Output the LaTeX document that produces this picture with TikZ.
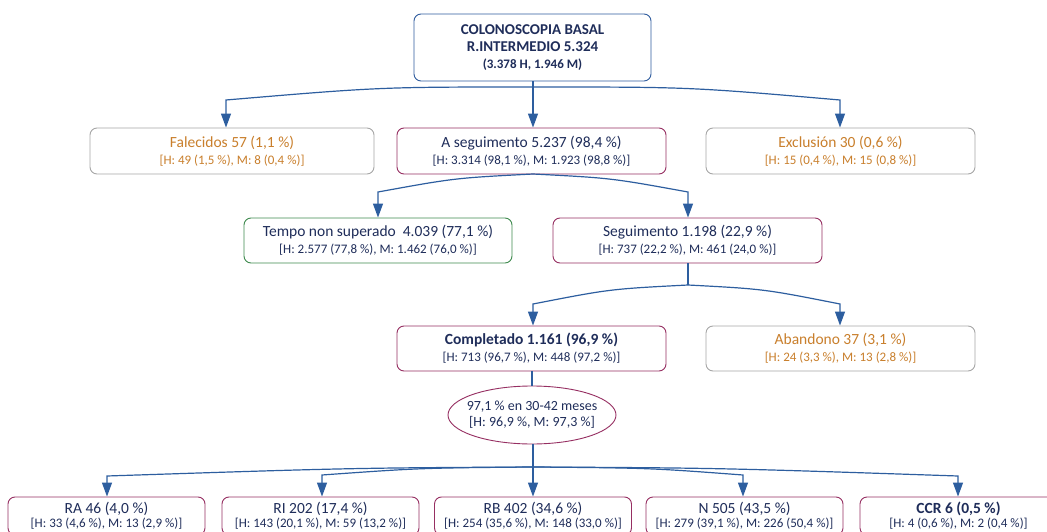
\documentclass[tikz,border=0pt]{standalone}
\usepackage{fontspec}
\setmainfont{Carlito}
\usetikzlibrary{arrows.meta,shapes.geometric}
\definecolor{navy}{HTML}{1F2D5A}
\definecolor{orangetxt}{HTML}{C97F2C}
\definecolor{maroonbd}{HTML}{962F62}
\definecolor{graybd}{HTML}{A6A6A6}
\definecolor{greenbd}{HTML}{3E8A4E}
\definecolor{topbd}{HTML}{2F5C9E}
\definecolor{lineblue}{HTML}{2D5E9F}
\newcommand\firstline[1]{{\fontsize{15.5}{17}\selectfont #1}}
\newcommand\secline[1]{{\fontsize{13}{17}\selectfont #1}}
\newcommand\bfirst[1]{{\fontsize{15.5}{14}\selectfont #1}}
\newcommand\bsec[1]{{\fontsize{13}{14}\selectfont #1}}
\tikzset{
  box/.style={draw, rounded corners=7pt, line width=0.9pt, fill=white, align=center,
    inner sep=1pt, text=navy, font=\fontsize{13}{17}\selectfont},
  mbox/.style={box, draw=maroonbd},
  gbox/.style={box, draw=graybd, text=orangetxt},
  grbox/.style={box, draw=greenbd},
  botbox/.style={mbox, minimum width=197pt, minimum height=38pt, font=\fontsize{13}{14}\selectfont},
  con/.style={draw=lineblue, line width=1.2pt},
  arr/.style={con, -{Triangle[width=10pt,length=14pt,fill=lineblue]}}
}
\begin{document}
\begin{tikzpicture}[x=1pt,y=-1pt]
\useasboundingbox (0,0) rectangle (1047,532);
\clip (0,0) rectangle (1047,532);

% nodes
\node[box, draw=topbd, minimum width=237pt, minimum height=67pt, font=\bfseries\fontsize{15}{17}\selectfont] (top) at (532.5,47.5)
  {COLONOSCOPIA BASAL\\R.INTERMEDIO 5.324\\{\fontsize{13}{17}\selectfont (3.378 H, 1.946 M)}};

\node[gbox, minimum width=284pt, minimum height=46pt] (fal) at (232,151)
  {\firstline{Falecidos 57 (1,1 \%)}\\\secline{[H: 49 (1,5 \%), M: 8 (0,4 \%)]}};
\node[mbox, minimum width=269pt, minimum height=46pt] (aseg) at (531.5,151)
  {\firstline{A seguimento 5.237 (98,4 \%)}\\\secline{[H: 3.314 (98,1 \%), M: 1.923 (98,8 \%)]}};
\node[gbox, minimum width=269pt, minimum height=46pt] (excl) at (840.5,151)
  {\firstline{Exclusión 30 (0,6 \%)}\\\secline{[H: 15 (0,4 \%), M: 15 (0,8 \%)]}};

\node[grbox, minimum width=268pt, minimum height=45pt] (tempo) at (378,240.5)
  {\firstline{Tempo non superado\ \ 4.039 (77,1 \%)}\\\secline{[H: 2.577 (77,8 \%), M: 1.462 (76,0 \%)]}};
\node[mbox, minimum width=269pt, minimum height=45pt] (seg) at (687.5,240.5)
  {\firstline{Seguimento 1.198 (22,9 \%)}\\\secline{[H: 737 (22,2 \%), M: 461 (24,0 \%)]}};

\node[mbox, minimum width=269pt, minimum height=45pt] (comp) at (531.5,348.5)
  {\firstline{\bfseries Completado 1.161 (96,9 \%)}\\\secline{[H: 713 (96,7 \%), M: 448 (97,2 \%)]}};
\node[gbox, minimum width=269pt, minimum height=45pt] (aband) at (840.5,348.5)
  {\firstline{Abandono 37 (3,1 \%)}\\\secline{[H: 24 (3,3 \%), M: 13 (2,8 \%)]}};

\node[ellipse, draw=maroonbd, line width=0.9pt, fill=white, minimum width=168pt, minimum height=58pt,
  inner xsep=-6pt, inner ysep=0pt, align=center, text=navy, font=\fontsize{14}{16}\selectfont] (ell) at (532,415)
  {97,1 \% en 30-42 meses\\{}[H: 96,9 \%, M: 97,3 \%]};

\node[botbox] (ra) at (106.5,516)
  {\bfirst{RA 46 (4,0 \%)}\\\bsec{[H: 33 (4,6 \%), M: 13 (2,9 \%)]}};
\node[botbox] (ri) at (320.5,516)
  {\bfirst{RI 202 (17,4 \%)}\\\bsec{[H: 143 (20,1 \%), M: 59 (13,2 \%)]}};
\node[botbox] (rb) at (533,516)
  {\bfirst{RB 402 (34,6 \%)}\\\bsec{[H: 254 (35,6 \%), M: 148 (33,0 \%)]}};
\node[botbox] (n) at (744.5,516)
  {\bfirst{N 505 (43,5 \%)}\\\bsec{[H: 279 (39,1 \%), M: 226 (50,4 \%)]}};
\node[botbox] (ccr) at (958.5,516)
  {\bfirst{\bfseries CCR 6 (0,5 \%)}\\\bsec{[H: 4 (0,6 \%), M: 2 (0,4 \%)]}};

% connectors level 1
\coordinate (j1) at (533,87);
\coordinate (k1) at (226,100);
\coordinate (k2) at (840,100);
\draw[con] (top.south -| j1) -- (j1);
\draw[arr] (j1) .. controls (380,87) .. (k1) -- (fal.north -| k1);
\draw[arr] (j1) -- (aseg.north -| j1);
\draw[arr] (j1) .. controls (690,87) .. (k2) -- (excl.north -| k2);

% level 2
\coordinate (j2) at (533,174);
\coordinate (k3) at (378,192);
\coordinate (k4) at (688,192);
\draw[arr] (j2) .. controls (455,178) .. (k3) -- (tempo.north -| k3);
\draw[arr] (j2) .. controls (611,178) .. (k4) -- (seg.north -| k4);

% level 3
\coordinate (j3) at (688,285);
\coordinate (k5) at (533,304);
\coordinate (k6) at (840,304);
\draw[con] (seg.south -| j3) -- (j3);
\draw[arr] (j3) .. controls (610,289) .. (k5) -- (comp.north -| k5);
\draw[arr] (j3) .. controls (764,289) .. (k6) -- (aband.north -| k6);

% completado to ellipse
\draw[con] (comp.south -| ell.north) -- (ell.north);

% level 4
\coordinate (j4) at (533,467);
\coordinate (r1) at (107,476);
\coordinate (r2) at (322,475);
\coordinate (r4) at (743,475);
\coordinate (r5) at (958,476);
\draw[con] (ell.south -| j4) -- (j4);
\draw[arr] (j4) .. controls (350,468) .. (r1) -- (ra.north -| r1);
\draw[arr] (j4) .. controls (420,468) .. (r2) -- (ri.north -| r2);
\draw[arr] (j4) -- (rb.north -| j4);
\draw[arr] (j4) .. controls (650,468) .. (r4) -- (n.north -| r4);
\draw[arr] (j4) .. controls (720,468) .. (r5) -- (ccr.north -| r5);
\end{tikzpicture}
\end{document}
